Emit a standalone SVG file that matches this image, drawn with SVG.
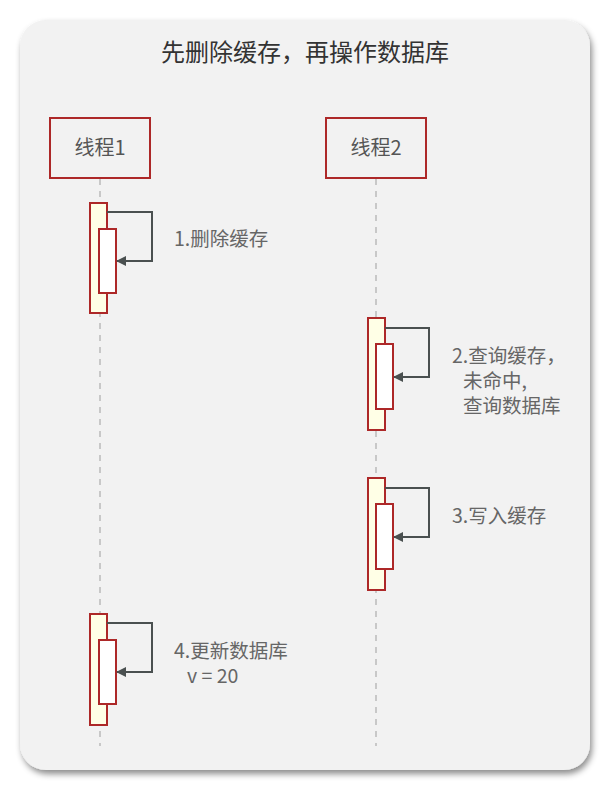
<svg xmlns="http://www.w3.org/2000/svg" width="610" height="791" viewBox="0 0 610 791">
<defs>
<filter id="sh" x="-10%" y="-10%" width="120%" height="120%">
<feDropShadow dx="2" dy="4" stdDeviation="3" flood-color="#000" flood-opacity="0.45"/>
</filter>
<marker id="ah" viewBox="0 0 10 10" refX="9" refY="5" markerWidth="10" markerHeight="10" markerUnits="userSpaceOnUse" orient="auto">
<path d="M0,0 L10,5 L0,10 Z" fill="#4a5050"/>
</marker>
<style>
text{font-family:"Noto Sans CJK SC","Liberation Sans",sans-serif}
.title{font-size:24px;fill:#333;text-anchor:middle}
.head{fill:none;stroke:#ad2828;stroke-width:2}
.hl{font-size:20px;fill:#555;text-anchor:middle}
.life{stroke:#bbb;stroke-width:1.5;stroke-dasharray:6,6}
.act{fill:#ffffe6;stroke:#ad2828;stroke-width:2}
.inner{fill:#fff;stroke:#ad2828;stroke-width:2}
.msg{fill:none;stroke:#4a5050;stroke-width:2;marker-end:url(#ah)}
.lbl{font-size:19.5px;fill:#666}
</style>
</defs>
<rect x="20" y="20" width="570" height="750" rx="26" fill="#f2f2f2" filter="url(#sh)"/>
<text class="title" x="305" y="61">先删除缓存，再操作数据库</text>
<g id="lifelines">
<line class="life" x1="100" y1="179" x2="100" y2="746"/>
<line class="life" x1="376" y1="179" x2="376" y2="746"/>
</g>
<g id="thread1">
<rect class="head" x="50" y="118" width="100" height="60"/>
<text class="hl" x="100" y="155">线程1</text>
</g>
<g id="thread2">
<rect class="head" x="326" y="118" width="100" height="60"/>
<text class="hl" x="376" y="155">线程2</text>
</g>
<g id="act1">
<rect class="act" x="90" y="203" width="17" height="110"/>
<rect class="inner" x="99" y="229" width="17" height="64"/>
</g>
<g id="act2">
<rect class="act" x="368" y="318" width="17" height="112"/>
<rect class="inner" x="376" y="344" width="17" height="65"/>
</g>
<g id="act3">
<rect class="act" x="368" y="478" width="17" height="112"/>
<rect class="inner" x="376" y="504" width="17" height="65"/>
</g>
<g id="act4">
<rect class="act" x="90" y="614" width="17" height="111"/>
<rect class="inner" x="99" y="640" width="17" height="64"/>
</g>
<g id="connectors">
<path class="msg" d="M107,212 H152 V261 H117"/>
<path class="msg" d="M385,328 H429 V377 H394"/>
<path class="msg" d="M385,488 H429 V537 H394"/>
<path class="msg" d="M107,623 H152 V672 H117"/>
</g>
<g id="labels">
<text class="lbl" x="174" y="246">1.删除缓存</text>
<text class="lbl" x="452" y="363">2.查询缓存，</text>
<text class="lbl" x="463" y="388">未命中,</text>
<text class="lbl" x="463" y="413">查询数据库</text>
<text class="lbl" x="452" y="523">3.写入缓存</text>
<text class="lbl" x="174" y="658">4.更新数据库</text>
<text class="lbl" x="187" y="683">v = 20</text>
</g>
</svg>
